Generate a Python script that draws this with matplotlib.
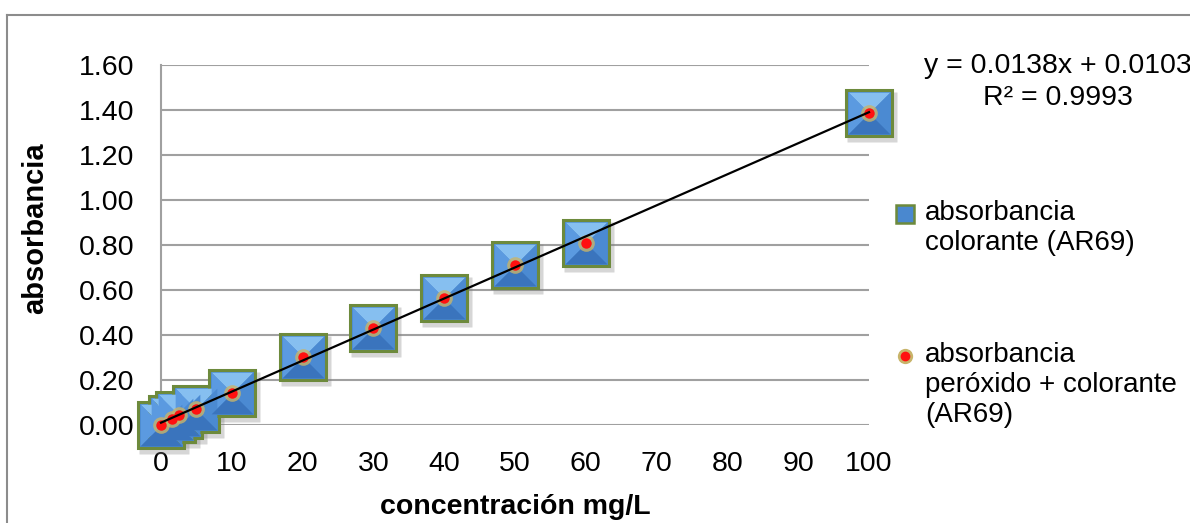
import numpy as np
import matplotlib
matplotlib.use("Agg")
import matplotlib.pyplot as plt
from matplotlib.path import Path
from matplotlib.lines import Line2D
import matplotlib.transforms as mtransforms

# ---- data ----
conc = [0, 1.5, 2.5, 5, 10, 20, 30, 40, 50, 60, 100]
abs_colorante = [0.00, 0.027, 0.044, 0.071, 0.142, 0.302, 0.431, 0.564, 0.711, 0.809, 1.385]
abs_peroxido = [0.00, 0.027, 0.044, 0.071, 0.142, 0.302, 0.431, 0.564, 0.711, 0.809, 1.385]
slope = 0.0138
intercept = 0.0103
r2 = 0.9993
x_ticks = [0, 10, 20, 30, 40, 50, 60, 70, 80, 90, 100]
y_ticks = [0.0, 0.2, 0.4, 0.6, 0.8, 1.0, 1.2, 1.4, 1.6]
legend_labels = ["absorbancia\ncolorante (AR69)", "absorbancia\nperóxido + colorante\n(AR69)"]
eq_text = "y = 0.0138x + 0.0103\nR² = 0.9993"
x_label = "concentración mg/L"
y_label = "absorbancia"

plt.rcParams['font.family'] = ['Liberation Sans', 'DejaVu Sans']

W, H = 1190, 523
fig = plt.figure(figsize=(W / 100, H / 100), dpi=100)
ax = fig.add_axes([161 / W, (H - 425) / H, (869 - 161) / W, (425 - 65) / H])

def fx(px):
    return px / W

def fy(py):
    return (H - py) / H

# outer chart border
fig.add_artist(Line2D([fx(7), fx(7)], [0, fy(15)], transform=fig.transFigure, color='#8c8c8c', lw=1.5))
fig.add_artist(Line2D([fx(7), 1.0], [fy(15), fy(15)], transform=fig.transFigure, color='#8c8c8c', lw=1.5))

ax.set_xlim(0, 100)
ax.set_ylim(0, 1.6)
ax.set_xticks(x_ticks)
ax.set_yticks(y_ticks)
ax.set_xticklabels([str(t) for t in x_ticks], fontsize=20.5)
ax.set_yticklabels([f"{t:.2f}" for t in y_ticks], fontsize=20.5)
ax.tick_params(axis='both', length=0)
ax.tick_params(axis='y', pad=19)
ax.tick_params(axis='x', pad=19)
for s in ['top', 'right', 'bottom']:
    ax.spines[s].set_visible(False)
ax.spines['left'].set_color('#a0a0a0')
ax.spines['left'].set_linewidth(1.5)
ax.yaxis.grid(True, color='#a0a0a0', lw=1.5)
ax.set_axisbelow(True)

# custom facet markers (pyramid look)
top_tri = Path([(0, 0), (-1, 1), (1, 1), (0, 0)], [Path.MOVETO, Path.LINETO, Path.LINETO, Path.CLOSEPOLY])
bot_tri = Path([(0, 0), (-1, -1), (1, -1), (0, 0)], [Path.MOVETO, Path.LINETO, Path.LINETO, Path.CLOSEPOLY])
left_tri = Path([(0, 0), (-1, -1), (-1, 1), (0, 0)], [Path.MOVETO, Path.LINETO, Path.LINETO, Path.CLOSEPOLY])
right_tri = Path([(0, 0), (1, -1), (1, 1), (0, 0)], [Path.MOVETO, Path.LINETO, Path.LINETO, Path.CLOSEPOLY])

msz = 33
shadow = mtransforms.offset_copy(ax.transData, fig=fig, x=3, y=-4, units='dots')
ax.plot(conc, abs_colorante, ls='none', marker='s', ms=msz + 3, mfc='#7a7a7a', mec='none',
        alpha=0.3, transform=shadow, clip_on=False, zorder=2)
ax.plot(conc, abs_colorante, ls='none', marker='s', ms=msz, mfc='#4a88cf', mec='#6d8a3c', mew=2.2,
        clip_on=False, zorder=3)
ax.plot(conc, abs_colorante, ls='none', marker=top_tri, ms=msz - 3, mfc='#86bff0', mec='none', clip_on=False, zorder=3.1)
ax.plot(conc, abs_colorante, ls='none', marker=left_tri, ms=msz - 3, mfc='#5b9ae0', mec='none', clip_on=False, zorder=3.1)
ax.plot(conc, abs_colorante, ls='none', marker=right_tri, ms=msz - 3, mfc='#4b8ad2', mec='none', clip_on=False, zorder=3.1)
ax.plot(conc, abs_colorante, ls='none', marker=bot_tri, ms=msz - 3, mfc='#3a74bd', mec='none', clip_on=False, zorder=3.1)

# red dots with halo
ax.plot(conc, abs_peroxido, ls='none', marker='o', ms=12, mfc='#c8b46a', mec='none', alpha=0.8, clip_on=False, zorder=4)
ax.plot(conc, abs_peroxido, ls='none', marker='o', ms=7.5, mfc='#ff1010', mec='none', clip_on=False, zorder=4.1)

# trendline
xl = np.array([min(conc), max(conc)])
ax.plot(xl, slope * xl + intercept, color='black', lw=1.6, zorder=5, clip_on=False)

ax.set_xlabel(x_label, fontsize=20.5, fontweight='bold', labelpad=12)
fig.text(fx(35), fy(228), y_label, rotation=90, fontsize=21, fontweight='bold',
         ha='center', va='center')

fig.text(fx(1058), fy(82), eq_text, fontsize=20.5, ha='center', va='center', linespacing=1.3)

# legend (drawn manually so each symbol sits on the first line of its label)
fig.add_artist(Line2D([fx(905)], [fy(214)], transform=fig.transFigure, ls='none', marker='s', ms=13,
                      mfc='#4a88cf', mec='#6d8a3c', mew=1.8))
fig.add_artist(Line2D([fx(905)], [fy(356)], transform=fig.transFigure, ls='none', marker='o', ms=11,
                      mfc='#c8b46a', mec='none'))
fig.add_artist(Line2D([fx(905)], [fy(356)], transform=fig.transFigure, ls='none', marker='o', ms=7,
                      mfc='#ff1010', mec='none'))
fig.text(fx(925), fy(200), legend_labels[0], fontsize=20, ha='left', va='top', linespacing=1.2)
fig.text(fx(925), fy(342), legend_labels[1], fontsize=20, ha='left', va='top', linespacing=1.2)

fig.savefig("out.png", dpi=100)
